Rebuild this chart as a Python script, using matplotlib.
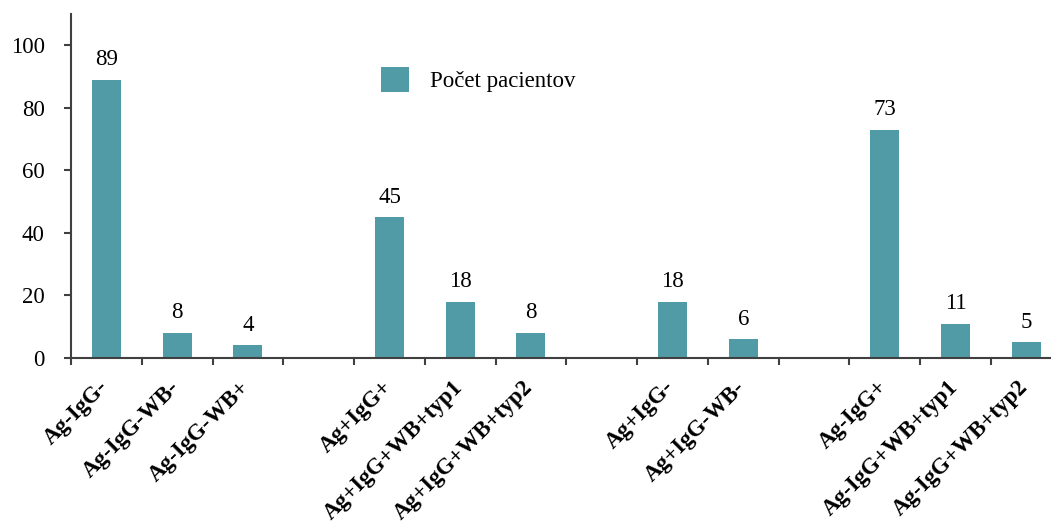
import matplotlib.pyplot as plt

# Slots on the x axis; empty strings leave a gap between groups
categories = ['Ag-IgG-', 'Ag-IgG-WB-', 'Ag-IgG-WB+', '',
              'Ag+IgG+', 'Ag+IgG+WB+typ1', 'Ag+IgG+WB+typ2', '',
              'Ag+IgG-', 'Ag+IgG-WB-', '',
              'Ag-IgG+', 'Ag-IgG+WB+typ1', 'Ag-IgG+WB+typ2']
counts = [89, 8, 4, None,
          45, 18, 8, None,
          18, 6, None,
          73, 11, 5]
y_ticks = [0, 20, 40, 60, 80, 100]

bar_color = '#519BA7'
axis_color = '#404040'
plt.rcParams['font.family'] = ['Liberation Serif', 'DejaVu Serif']

fig = plt.figure(figsize=(10.51, 5.27), dpi=100)
ax = fig.add_axes([0.0676, 0.3207, 0.9324, 0.6527])

xs = [i + 0.5 for i, c in enumerate(counts) if c is not None]
vals = [c for c in counts if c is not None]
labs = [categories[i] for i, c in enumerate(counts) if c is not None]

bars = ax.bar(xs, vals, width=0.41, color=bar_color, label='Počet pacientov', zorder=2)
for x, v in zip(xs, vals):
    ax.annotate(str(v), (x, v), xytext=(0, 7), textcoords='offset points',
                ha='center', va='bottom', fontsize=16.5)

ax.set_xlim(0, 13.85)
ax.set_ylim(0, 110)
ax.set_yticks(y_ticks)
ax.tick_params(axis='y', labelsize=16.5, length=5, width=1.5, color=axis_color, pad=14)

# tick marks on slot borders, labels under bar centres
ax.set_xticks(range(14))
ax.set_xticklabels([])
ax.tick_params(axis='x', length=5, width=1.5, color=axis_color)
for x, lab in zip(xs, labs):
    ax.text(x - 0.12, -6, lab, rotation=45, rotation_mode='anchor',
            ha='right', va='top', fontsize=16.5, fontweight='bold',
            transform=ax.transData, clip_on=False)

for side in ('top', 'right'):
    ax.spines[side].set_visible(False)
for side in ('left', 'bottom'):
    ax.spines[side].set_color(axis_color)
    ax.spines[side].set_linewidth(1.5)

ax.legend(loc='upper left', bbox_to_anchor=(0.295, 0.905), frameon=False,
          fontsize=16.5, handlelength=1.25, handleheight=1.3, handletextpad=0.9)

fig.savefig('out.png', dpi=100)
